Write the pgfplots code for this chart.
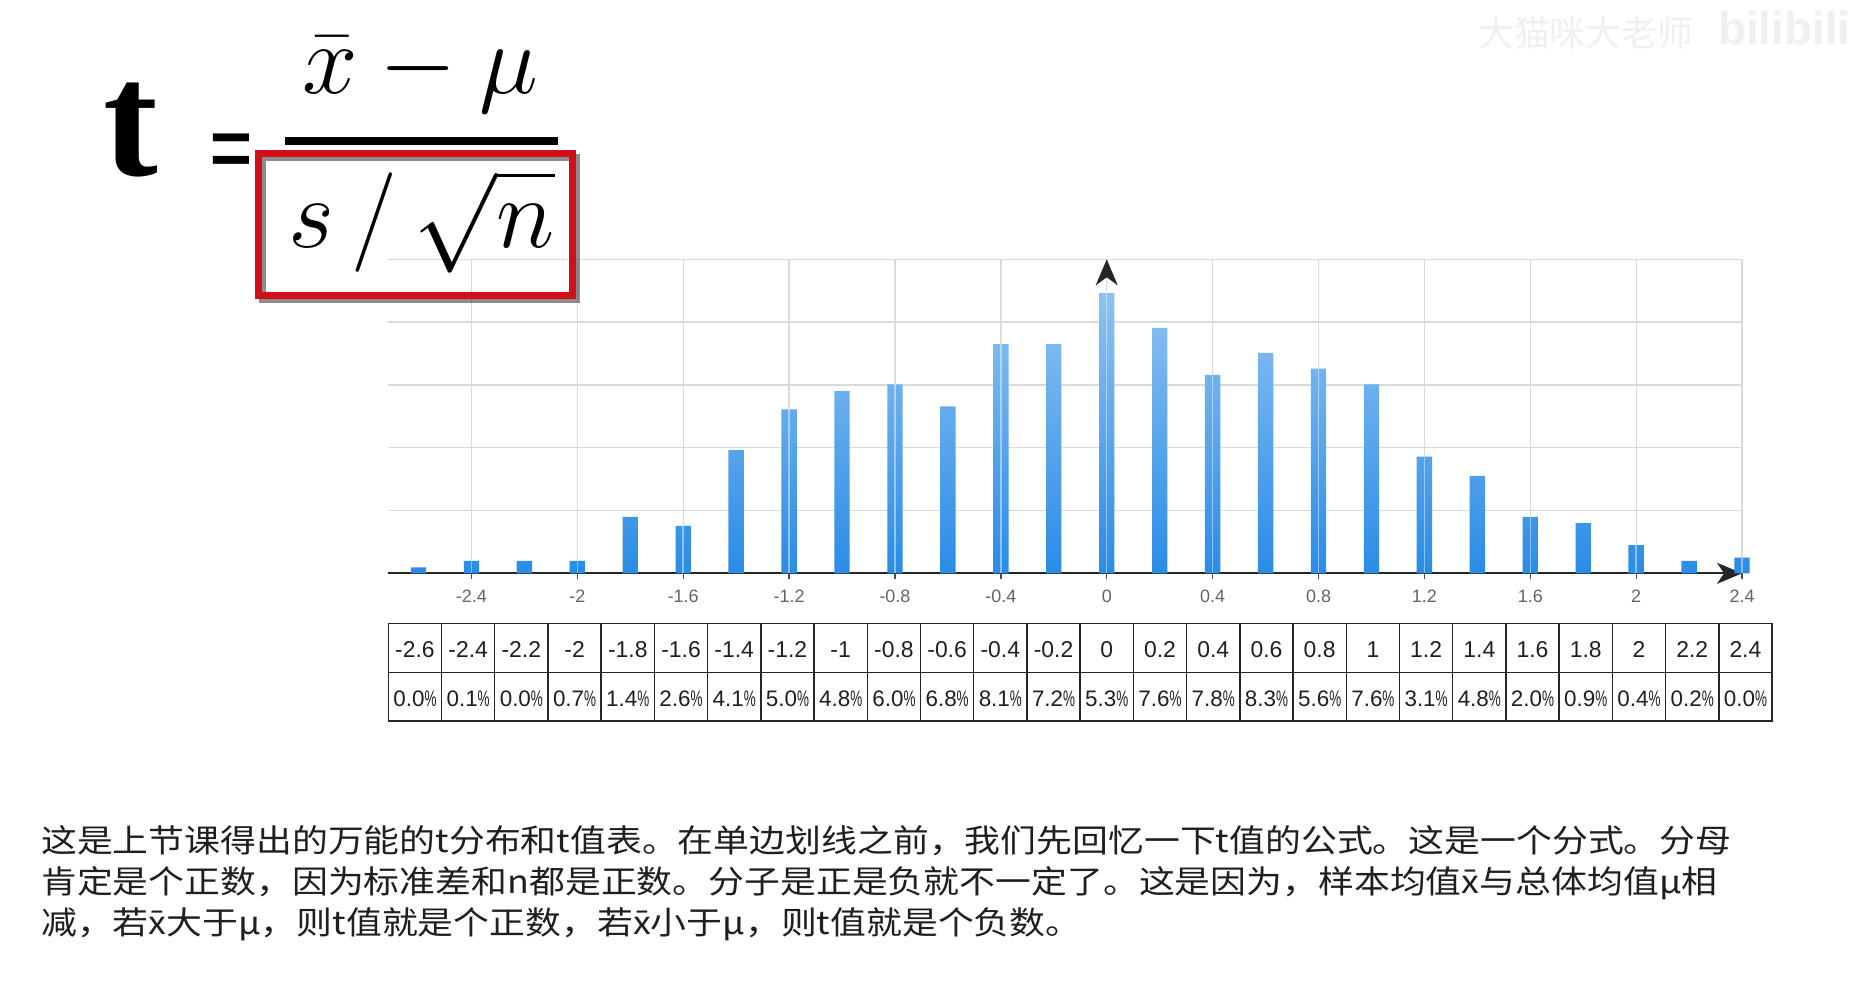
\RequirePackage{fix-cm}
\documentclass[border=0pt]{standalone}
\usepackage{fontspec}
\usepackage{graphicx}
\usepackage{pgfplots}
\pgfplotsset{compat=1.18}
\usepackage{pgfplotstable}
\usetikzlibrary{arrows.meta}

\newfontfamily\lsans{Liberation Sans}
\newfontfamily\lserif{Liberation Serif}
\newfontfamily\cjk[FakeStretch=1.125]{Noto Sans CJK SC}
\newfontfamily\cjkplain{Noto Sans CJK SC}

\definecolor{gridgray}{RGB}{218,218,218}
\definecolor{barblue}{RGB}{42,140,231}
\definecolor{barlight}{RGB}{142,194,242}
\definecolor{boxred}{RGB}{210,14,26}
\definecolor{ticktext}{RGB}{100,100,100}

\newcommand\xbar{\ooalign{x\cr\hidewidth¯\hidewidth\cr}}

\pgfplotstableread{
x h
-2.6 0.096
-2.4 0.20
-2.2 0.20
-2.0 0.20
-1.8 0.90
-1.6 0.755
-1.4 1.96
-1.2 2.61
-1.0 2.90
-0.8 3.01
-0.6 2.66
-0.4 3.65
-0.2 3.65
0 4.46
0.2 3.91
0.4 3.16
0.6 3.51
0.8 3.26
1.0 3.01
1.2 1.86
1.4 1.55
1.6 0.90
1.8 0.80
2.0 0.45
2.2 0.20
2.4 0.25
}\bars

\pgfplotstableread{
x h
-2.4 0.20
-2.0 0.20
-1.6 0.755
-1.2 2.61
-0.8 3.01
-0.4 3.65
0 4.46
0.4 3.16
0.8 3.26
1.2 1.86
1.6 0.90
2.0 0.45
2.4 0.25
}\streaks

\begin{document}
\begin{tikzpicture}
\begin{scope}[x=1bp,y=-1bp]
\fill[white] (0,0) rectangle (1862,1006);
\useasboundingbox (0,0) rectangle (1862,1006);
\end{scope}

\begin{axis}[
  at={(388.3bp,-573.3bp)}, anchor=south west,
  scale only axis, width=1353.7bp, height=314bp,
  xmin=-2.714, xmax=2.4, ymin=0, ymax=5,
  axis x line*=bottom, axis y line*=middle,
  x axis line style={draw=black!85, line width=2bp, -{Stealth[length=25bp,width=21bp,inset=7bp]}},
  y axis line style={draw=gridgray, line width=1.3bp, -{Stealth[length=26bp,width=22bp,inset=8bp,color=black!85]}},
  xtick={-2.4,-2,-1.6,-1.2,-0.8,-0.4,0,0.4,0.8,1.2,1.6,2,2.4},
  xticklabels={-2.4,-2,-1.6,-1.2,-0.8,-0.4,0,0.4,0.8,1.2,1.6,2,2.4},
  ytick={1,2,3,4,5}, yticklabels={},
  xmajorgrids, ymajorgrids,
  grid style={draw=gridgray, line width=1.3bp},
  xtick align=outside, major tick length=6bp,
  xtick style={draw=black!70, line width=1.3bp},
  ytick style={draw=none},
  hide obscured x ticks=false,
  xticklabel style={font=\lsans\fontsize{18}{18}\selectfont, text=ticktext, inner sep=0pt, anchor=north},
  xticklabel shift=10bp,
  clip=false,
]
\addplot[ybar, bar width=0.058, draw=none, top color=barlight, middle color=barblue, bottom color=barblue] table[x=x,y=h]{\bars};
\addplot[ycomb, draw=white, draw opacity=0.45, line width=1.5bp, mark=none] table[x=x,y=h]{\streaks};
\end{axis}

\begin{scope}[x=1bp,y=-1bp]
% formula
\node[anchor=base west, inner sep=0, text=black, font=\lserif\bfseries\fontsize{165}{165}\selectfont] at (103,175) {t};
\node[anchor=base, inner sep=0, font=\lserif\bfseries\fontsize{78}{78}\selectfont] at (232,186) {\scalebox{1}[1.45]{=}};
\node[anchor=base, inner sep=0, font=\fontsize{100}{100}\selectfont] at (420,93) {$\bar{x} - \mu$};
\draw[line width=8bp] (285,141) -- (558,141);
\draw[line width=7bp, draw=black, opacity=0.45] (262.5,157.5) rectangle (576.5,299.5);
\draw[line width=7bp, draw=boxred] (258.5,153.5) rectangle (572.5,295.5);
\node[anchor=base, inner sep=0, font=\fontsize{100}{100}\selectfont] at (422,247) {$s\mkern3mu/\mkern3mu\sqrt{n}$};

% table
\draw[line width=1.5bp, draw=black!85] (388.3,623.3) rectangle (1772,721);
\draw[line width=1.5bp, draw=black!85] (388.3,672.3) -- (1772,672.3);
\foreach \i in {1,...,25} {
  \draw[line width=1.5bp, draw=black!85] ({388.3+53.22*\i},623.3) -- ({388.3+53.22*\i},721);
}
\foreach \v/\p [count=\i] in {-2.6/0.0,-2.4/0.1,-2.2/0.0,-2/0.7,-1.8/1.4,-1.6/2.6,-1.4/4.1,-1.2/5.0,-1/4.8,-0.8/6.0,-0.6/6.8,-0.4/8.1,-0.2/7.2,0/5.3,0.2/7.6,0.4/7.8,0.6/8.3,0.8/5.6,1/7.6,1.2/3.1,1.4/4.8,1.6/2.0,1.8/0.9,2/0.4,2.2/0.2,2.4/0.0} {
  \pgfmathsetmacro\xc{388.3+53.22*(\i-1)+26.61}
  \node[anchor=base, inner sep=0, text=black!88, font=\lsans\fontsize{23}{23}\selectfont] at (\xc,657.7) {\v};
  \node[anchor=base, inner sep=0, text=black!88, font=\lsans\fontsize{22.5}{22.5}\selectfont] at (\xc,706.7) {\p\scalebox{0.6}[1]{\%}};
}

% text
\node[anchor=base west, inner sep=0, text=black!88, font=\cjk\fontsize{32}{32}\selectfont] at (41,852) {这是上节课得出的万能的t分布和t值表。在单边划线之前，我们先回忆一下t值的公式。这是一个分式。分母};
\node[anchor=base west, inner sep=0, text=black!88, font=\cjk\fontsize{32}{32}\selectfont] at (41,893) {肯定是个正数，因为标准差和n都是正数。分子是正是负就不一定了。这是因为，样本均值\xbar 与总体均值μ相};
\node[anchor=base west, inner sep=0, text=black!88, font=\cjk\fontsize{32}{32}\selectfont] at (41,934) {减，若\xbar 大于μ，则t值就是个正数，若\xbar 小于μ，则t值就是个负数。};

% watermark
\node[anchor=west, inner sep=0, text=black!6, font=\cjkplain\fontsize{36}{36}\selectfont] at (1478,33) {大猫咪大老师};
\node[anchor=west, inner sep=0, text=black!6, font=\lsans\bfseries\fontsize{46}{46}\selectfont] at (1718,28) {bilibili};
\end{scope}
\end{tikzpicture}
\end{document}
